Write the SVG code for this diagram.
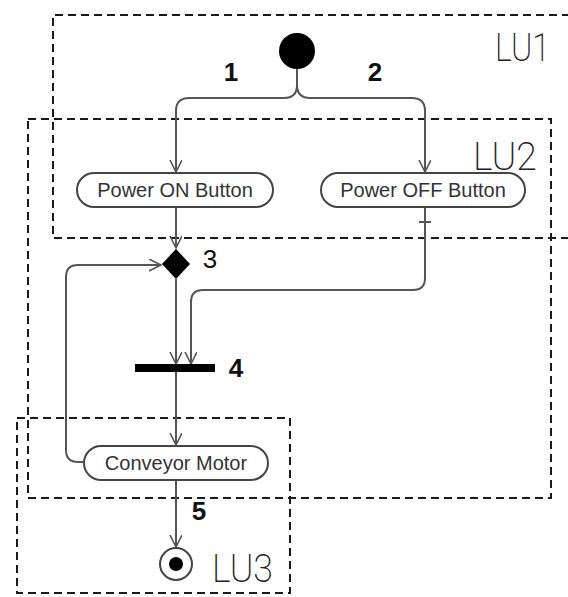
<svg xmlns="http://www.w3.org/2000/svg" width="568" height="597" viewBox="0 0 568 597">
<style>
.lu{fill:none;stroke:#1a1a1a;stroke-width:2;stroke-dasharray:8 5}
.c{fill:none;stroke:#555;stroke-width:2}
.act{fill:#fff;stroke:#444;stroke-width:2}
.at{font-family:"Liberation Sans",Arial,sans-serif;font-size:20px;fill:#333;text-anchor:middle}
.num{font-family:"Liberation Sans",Arial,sans-serif;font-size:26px;fill:#111}
.lbl{font-family:Roboto,"DejaVu Sans",sans-serif;font-weight:200;font-size:39px;fill:#222}
</style>
<defs>
<marker id="ah" markerWidth="14" markerHeight="14" refX="12" refY="6" orient="auto" markerUnits="userSpaceOnUse">
<path d="M0,0 L12,6 L0,12" fill="none" stroke="#555" stroke-width="1.6"/>
</marker>
</defs>
<rect width="568" height="597" fill="#fff"/>
<g id="regions">
<path class="lu" d="M570 15 H53 V238 H570"/>
<rect class="lu" x="28" y="119" width="523" height="379"/>
<rect class="lu" x="17" y="418" width="273" height="175"/>
<text class="lbl" x="495" y="61" textLength="55" lengthAdjust="spacingAndGlyphs">LU1</text>
<text class="lbl" x="473" y="170" textLength="64" lengthAdjust="spacingAndGlyphs">LU2</text>
<text class="lbl" x="212" y="582" textLength="61" lengthAdjust="spacingAndGlyphs">LU3</text>
</g>
<g id="connectors">
<path class="c" d="M297 66 V85 Q297 98 284 98 H189 Q176 98 176 111 V172" marker-end="url(#ah)"/>
<path class="c" d="M297 85 Q297 98 310 98 H412 Q425 98 425 111 V172" marker-end="url(#ah)"/>
<path class="c" d="M176 207 V248" marker-end="url(#ah)"/>
<path class="c" d="M84 462 H78 Q66 462 66 450 V277 Q66 265 78 265 H161" marker-end="url(#ah)"/>
<path class="c" d="M176 279 V364" marker-end="url(#ah)"/>
<path class="c" d="M425 207 V278 Q425 290 413 290 H203 Q191 290 191 302 V364" marker-end="url(#ah)"/>
<path class="c" d="M419 222 H431"/>
<path class="c" d="M176 372 V445" marker-end="url(#ah)"/>
<path class="c" d="M176 480 V547" marker-end="url(#ah)"/>
<text class="num" x="231" y="81" text-anchor="middle" font-weight="bold">1</text>
<text class="num" x="375" y="81" text-anchor="middle" font-weight="bold">2</text>
<text class="num" x="210" y="268" text-anchor="middle">3</text>
<text class="num" x="236" y="377" text-anchor="middle" font-weight="bold">4</text>
<text class="num" x="199" y="520" text-anchor="middle" font-weight="bold">5</text>
</g>
<g id="start"><circle cx="297" cy="51" r="18" fill="#000"/></g>
<g id="power-on"><rect class="act" x="77" y="173" width="196" height="34" rx="17"/><text class="at" x="175" y="197">Power ON Button</text></g>
<g id="power-off"><rect class="act" x="321" y="173" width="204" height="34" rx="17"/><text class="at" x="423" y="197">Power OFF Button</text></g>
<g id="decision"><polygon points="176,249 190,264 176,279 162,264" fill="#000"/></g>
<g id="join"><rect x="135" y="364" width="80" height="8" fill="#000"/></g>
<g id="conveyor-motor"><rect class="act" x="84" y="446" width="184" height="34" rx="17"/><text class="at" x="176" y="470">Conveyor Motor</text></g>
<g id="end"><circle cx="176" cy="564" r="16" fill="#fff" stroke="#444" stroke-width="2"/><circle cx="176" cy="564" r="7" fill="#000"/></g>
</svg>
